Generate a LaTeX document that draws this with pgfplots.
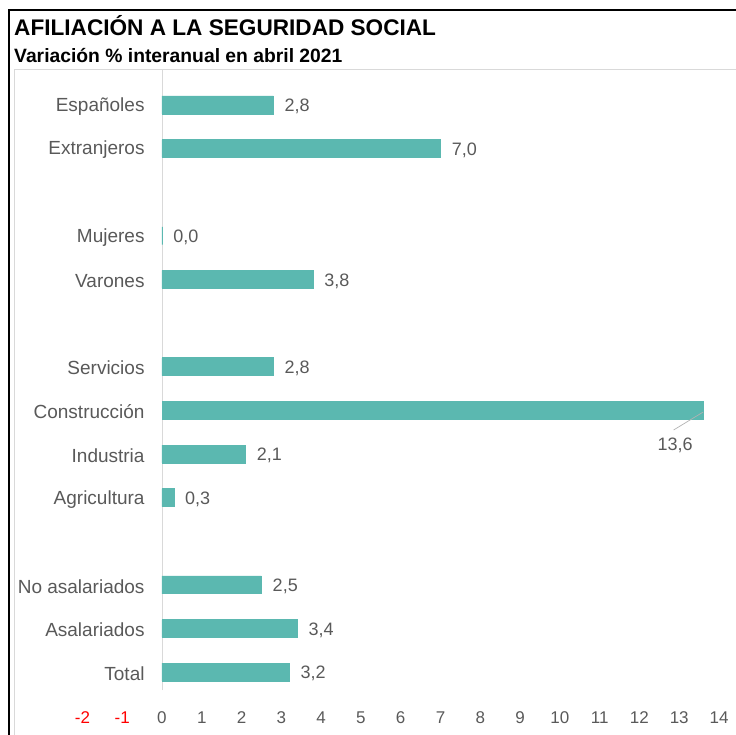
\documentclass[border=0pt]{standalone}
\usepackage{pgfplots}
\pgfplotsset{compat=1.18}
\usepackage{fontspec}
\setmainfont{Liberation Sans}
\definecolor{barc}{RGB}{91,184,176}
\definecolor{lab}{RGB}{89,89,89}
\definecolor{axg}{RGB}{217,217,217}
\begin{document}
\begin{tikzpicture}
\useasboundingbox (0pt,0pt) rectangle (736pt,-735pt);
\draw[line width=2pt, black] (9pt,-745pt) -- (9pt,-10pt) -- (745pt,-10pt);
\draw[line width=0.8pt, axg] (14pt,-745pt) -- (14pt,-69pt) -- (745pt,-69pt);
\node[anchor=base west, inner sep=0pt, font=\fontsize{22.6}{25}\selectfont\bfseries] at (14pt,-36pt) {AFILIACIÓN A LA SEGURIDAD SOCIAL};
\node[anchor=base west, inner sep=0pt, font=\fontsize{19.3}{21}\selectfont\bfseries] at (14pt,-63pt) {Variación \% interanual en abril 2021};
\begin{axis}[
  at={(82.4pt,-690pt)}, anchor=south west,
  scale only axis, width=636.6pt, height=620pt,
  xmin=-2, xmax=14, ymin=-0.41, ymax=13.8,
  xbar, bar width=0.41, bar shift=0pt,
  axis line style={draw=none},
  tick style={draw=none},
  xtick={-2,-1,0,1,2,3,4,5,6,7,8,9,10,11,12,13,14},
  xticklabels={\textcolor{red}{-2},\textcolor{red}{-1},0,1,2,3,4,5,6,7,8,9,10,11,12,13,14},
  xticklabel style={font=\fontsize{17}{19}\selectfont, text=lab, yshift=-18pt},
  ytick={0,1,2,4,5,6,7,9,10,12,13},
  yticklabels={Total,Asalariados,No asalariados,Agricultura,Industria,Construcción,Servicios,Varones,Mujeres,Extranjeros,Españoles},
  yticklabel style={font=\fontsize{19}{21}\selectfont, text=lab, anchor=east, inner sep=0pt, xshift=66.6pt, yshift=-1.5pt},
  extra x ticks={0}, extra x tick labels={},
  extra x tick style={grid=major, major grid style={axg, line width=0.8pt}},
  /pgf/number format/.cd, use comma, fixed, fixed zerofill, precision=1, assume math mode=true,
  /pgfplots/.cd,
  nodes near coords,
  nodes near coords style={font=\fontsize{18}{20}\selectfont, text=lab, anchor=west, inner sep=0pt, xshift=11pt, yshift=-1.5pt},
  clip=false,
]
\addplot[fill=barc, draw=barc, line width=0.6pt] coordinates {
  (3.2,0) (3.4,1) (2.5,2) (0.3,4) (2.1,5) (2.8,7) (3.8,9) (0.0,10) (7.0,12) (2.8,13)
};
\addplot[fill=barc, draw=barc, line width=0.6pt,
  nodes near coords style={anchor=north, xshift=-39pt, yshift=-26pt}] coordinates {
  (13.6,6)
};
\draw[gray!60, line width=0.7pt] (axis cs:13.6,5.96) -- (axis cs:12.86,5.55);
\end{axis}
\end{tikzpicture}
\end{document}
